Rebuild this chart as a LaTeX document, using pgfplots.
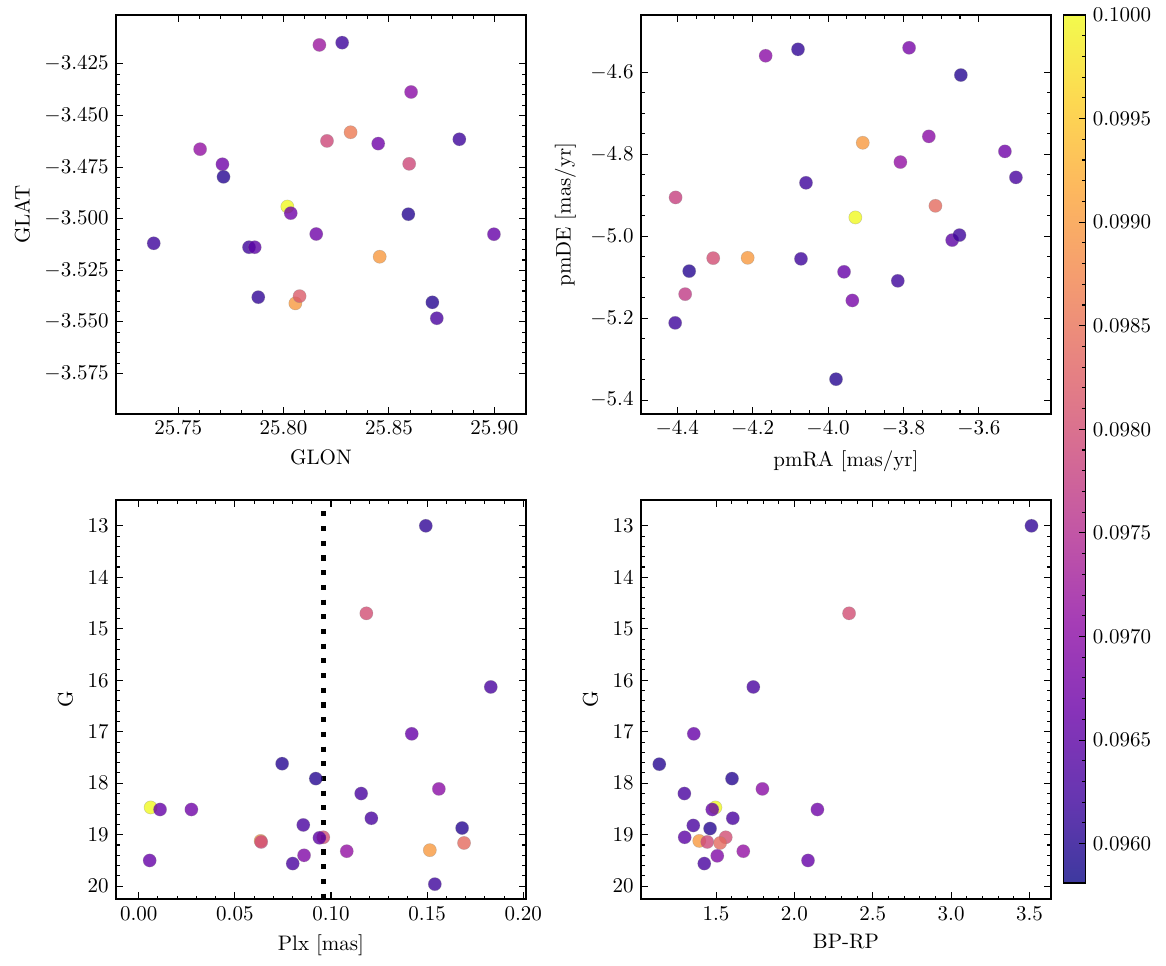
\documentclass[border=0pt]{standalone}
\usepackage{pgfplots}
\usepackage{pgfplotstable}
\pgfplotsset{compat=1.18}

\pgfplotsset{
  colormap={plasma}{rgb255=(13,8,135) rgb255=(65,4,157) rgb255=(106,0,168) rgb255=(143,13,164) rgb255=(177,42,144) rgb255=(204,71,120) rgb255=(225,100,98) rgb255=(242,132,75) rgb255=(252,166,54) rgb255=(252,206,37) rgb255=(240,249,33)},
  % same map seen through alpha 0.8 on white (for the colour bar)
  colormap={plasmalight}{rgb255=(61,57,159) rgb255=(103,54,177) rgb255=(136,51,185) rgb255=(165,61,182) rgb255=(193,85,166) rgb255=(214,108,147) rgb255=(231,131,129) rgb255=(245,157,111) rgb255=(253,184,94) rgb255=(253,216,81) rgb255=(243,250,77)},
  myax/.style={
    scale only axis, width=195.2pt, height=190pt,
    tick align=inside, xtick pos=both, ytick pos=both,
    minor tick num=4,
    major tick length=3.2pt, minor tick length=1.7pt,
    scaled ticks=false,
    colormap name=plasma,
    point meta min=0.09581, point meta max=0.1,
    axis line style={line width=0.6pt},
    every tick/.style={black, line width=0.5pt},
  },
  myscatter/.style={
    scatter, only marks, mark=*, mark size=3.15pt,
    scatter src=explicit,
    scatter/use mapped color={draw=black!45, fill=mapped color},
    mark options={fill opacity=0.8, draw opacity=0.4, line width=0.25pt},
  },
}

\pgfplotstableread{
x y c
25.8018 -3.4941 0.1000
25.8170 -3.4158 0.0972
25.8278 -3.4147 0.0962
25.8605 -3.4386 0.0970
25.8318 -3.4581 0.0986
25.8206 -3.4623 0.0979
25.8449 -3.4636 0.0967
25.8834 -3.4615 0.0962
25.7604 -3.4663 0.0971
25.7710 -3.4736 0.0967
25.7715 -3.4797 0.0960
25.8596 -3.4734 0.0979
25.8034 -3.4973 0.0967
25.8592 -3.4978 0.0960
25.8155 -3.5074 0.0967
25.8998 -3.5075 0.0966
25.7384 -3.5119 0.0962
25.7836 -3.5138 0.0962
25.7863 -3.5138 0.0965
25.8456 -3.5184 0.0990
25.7880 -3.5380 0.0961
25.8056 -3.5410 0.0990
25.8076 -3.5375 0.0982
25.8706 -3.5405 0.0960
25.8727 -3.5482 0.0963
}\tabA

\pgfplotstableread{
x y c
-3.9275 -4.9541 0.1000
-4.1654 -4.5595 0.0970
-4.0796 -4.5438 0.0961
-3.7850 -4.5400 0.0968
-3.6478 -4.6066 0.0960
-3.9079 -4.7719 0.0990
-3.7327 -4.7563 0.0970
-3.8081 -4.8190 0.0971
-3.5310 -4.7929 0.0967
-3.5018 -4.8564 0.0963
-4.0584 -4.8696 0.0962
-4.4042 -4.9053 0.0978
-3.7152 -4.9258 0.0984
-3.6708 -5.0095 0.0965
-3.6515 -4.9973 0.0962
-4.3044 -5.0535 0.0980
-4.2131 -5.0527 0.0990
-4.3681 -5.0852 0.0960
-4.0717 -5.0552 0.0962
-3.9575 -5.0869 0.0966
-3.8150 -5.1089 0.0962
-4.3788 -5.1414 0.0977
-3.9355 -5.1568 0.0968
-4.4053 -5.2115 0.0962
-3.9788 -5.3490 0.0960
}\tabB

\pgfplotstableread{
x y c
0.0062 18.47 0.1000
0.1493 13.00 0.0961
0.1184 14.70 0.0980
0.1831 16.13 0.0963
0.1420 17.04 0.0966
0.0746 17.62 0.0960
0.0921 17.91 0.0960
0.1561 18.11 0.0970
0.1157 18.20 0.0963
0.0111 18.51 0.0966
0.0274 18.51 0.0967
0.1210 18.68 0.0963
0.0856 18.81 0.0963
0.1682 18.87 0.0960
0.0960 19.05 0.0980
0.0940 19.06 0.0965
0.0634 19.12 0.0990
0.0637 19.14 0.0979
0.1692 19.16 0.0984
0.1514 19.30 0.0990
0.1082 19.32 0.0971
0.0860 19.40 0.0969
0.0057 19.50 0.0966
0.0801 19.56 0.0963
0.1540 19.96 0.0962
}\tabC

\pgfplotstableread{
x y c
1.496 18.47 0.1000
3.513 13.00 0.0961
2.349 14.70 0.0980
1.738 16.13 0.0963
1.358 17.04 0.0966
1.138 17.63 0.0960
1.602 17.91 0.0960
1.796 18.11 0.0970
1.298 18.20 0.0963
1.476 18.51 0.0966
2.147 18.51 0.0967
1.607 18.68 0.0963
1.355 18.82 0.0963
1.462 18.88 0.0960
1.562 19.05 0.0980
1.300 19.05 0.0965
1.393 19.12 0.0990
1.444 19.14 0.0979
1.526 19.16 0.0984
1.674 19.32 0.0971
1.508 19.41 0.0969
2.087 19.50 0.0966
1.425 19.56 0.0963
}\tabD

\begin{document}
\begin{tikzpicture}
\path[use as bounding box] (0,0) rectangle (555.2pt,-459.5pt);

% top left
\begin{axis}[myax, at={(55.24pt,-7.14pt)}, anchor=north west,
  xmin=25.7205, xmax=25.915, ymin=-3.5946, ymax=-3.4013,
  xtick={25.75,25.80,25.85,25.90},
  ytick={-3.575,-3.55,-3.525,-3.5,-3.475,-3.45,-3.425},
  xticklabel style={/pgf/number format/.cd, fixed, fixed zerofill, precision=2},
  yticklabel style={/pgf/number format/.cd, fixed, fixed zerofill, precision=3},
  xlabel={GLON}, ylabel={GLAT}]
\addplot[myscatter] table[x=x, y=y, meta=c]{\tabA};
\end{axis}

% top right
\begin{axis}[myax, at={(305.2pt,-7.14pt)}, anchor=north west,
  xmin=-4.496, xmax=-3.409, ymin=-5.434, ymax=-4.46,
  xtick={-4.4,-4.2,-4.0,-3.8,-3.6},
  ytick={-5.4,-5.2,-5.0,-4.8,-4.6},
  minor x tick num=3, minor y tick num=3,
  xticklabel style={/pgf/number format/.cd, fixed, fixed zerofill, precision=1},
  yticklabel style={/pgf/number format/.cd, fixed, fixed zerofill, precision=1},
  xlabel={pmRA [mas/yr]}, ylabel={pmDE [mas/yr]},
  colorbar,
  colorbar style={
    colormap name=plasmalight,
    at={(parent axis.north east)}, anchor=north west,
    xshift=-2.6pt, width=10.5pt, height=413.3pt,
    ytick={0.0960,0.0965,0.0970,0.0975,0.0980,0.0985,0.0990,0.0995,0.1000},
    minor y tick num=4,
    scaled y ticks=false,
    yticklabel style={/pgf/number format/.cd, fixed, fixed zerofill, precision=4},
    tick align=inside, ytick pos=right, yticklabel pos=right,
    major tick length=3.2pt, minor tick length=1.7pt,
    axis line style={line width=0.6pt},
    every tick/.style={black, line width=0.5pt},
  }]
\addplot[myscatter] table[x=x, y=y, meta=c]{\tabB};
\end{axis}

% bottom left
\begin{axis}[myax, at={(55.24pt,-238.1pt)}, anchor=north west,
  xmin=-0.0118, xmax=0.2014, ymin=12.5, ymax=20.25, y dir=reverse,
  xtick={0,0.05,0.10,0.15,0.20},
  ytick={13,14,15,16,17,18,19,20},
  xticklabel style={/pgf/number format/.cd, fixed, fixed zerofill, precision=2},
  xlabel={Plx [mas]}, ylabel={G}]
\addplot[myscatter] table[x=x, y=y, meta=c]{\tabC};
\addplot[black, line width=2.4pt, dash pattern=on 2.4pt off 4.6pt, forget plot]
  coordinates {(0.0963,12.72) (0.0963,20.25)};
\end{axis}

% bottom right
\begin{axis}[myax, at={(305.2pt,-238.1pt)}, anchor=north west,
  xmin=1.021, xmax=3.637, ymin=12.5, ymax=20.25, y dir=reverse,
  xtick={1.5,2.0,2.5,3.0,3.5},
  ytick={13,14,15,16,17,18,19,20},
  xticklabel style={/pgf/number format/.cd, fixed, fixed zerofill, precision=1},
  xlabel={BP-RP}, ylabel={G}]
\addplot[myscatter] table[x=x, y=y, meta=c]{\tabD};
\end{axis}
\end{tikzpicture}
\end{document}
